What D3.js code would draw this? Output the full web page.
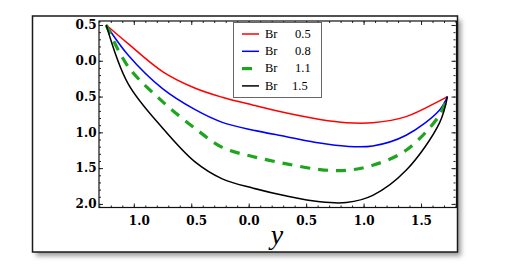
<!DOCTYPE html>
<html>
<head>
<meta charset="utf-8">
<script src="https://cdn.jsdelivr.net/npm/d3@7/dist/d3.min.js"></script>
<style>
  body { margin: 0; background: #fff; }
</style>
</head>
<body>
<div id="chart"></div>
<script>
// values (horizontal axis is y)
var yGrid = [-1.24, -1.05, -0.75, -0.47, -0.23, 0.04, 0.33, 0.62, 0.85, 1.08, 1.37, 1.66, 1.73];
var br05  = [0.5, 0.24, -0.15, -0.38, -0.51, -0.62, -0.73, -0.82, -0.865, -0.865, -0.78, -0.56, -0.5];
var br08  = [0.5, 0.08, -0.39, -0.68, -0.86, -0.97, -1.06, -1.15, -1.195, -1.19, -1.04, -0.69, -0.5];
var br11  = [0.5, -0.08, -0.57, -0.94, -1.21, -1.34, -1.44, -1.52, -1.53, -1.46, -1.25, -0.76, -0.5];
var br15  = [0.5, -0.32, -0.94, -1.41, -1.65, -1.78, -1.89, -1.97, -1.98, -1.88, -1.53, -0.87, -0.5];
var brNames  = ["Br", "Br", "Br", "Br"];
var brValues = ["0.5", "0.8", "1.1", "1.5"];
var xMajor = [-1, -0.5, 0, 0.5, 1, 1.5];
var yMajor = [0.5, 0, -0.5, -1, -1.5, -2];

var W = 513, H = 271;
var colors = ["#ff0000", "#0000ff", "#1ea51e", "#000000"];
var series = [br05, br08, br11, br15];

var svg = d3.select("#chart").append("svg")
    .attr("width", W)
    .attr("height", H);

// frame with drop shadow
var defs = svg.append("defs");
defs.append("filter").attr("id", "blur")
    .attr("x", "-10%").attr("y", "-10%").attr("width", "120%").attr("height", "120%")
  .append("feGaussianBlur").attr("stdDeviation", 2.5);

svg.append("rect")
    .attr("x", 36).attr("y", 20).attr("width", 425).attr("height", 236)
    .style("fill", "#9a9a9a")
    .attr("filter", "url(#blur)");
svg.append("rect")
    .attr("x", 32.5).attr("y", 16).attr("width", 425).attr("height", 236)
    .style("fill", "#fff")
    .style("stroke", "#1a1a1a")
    .style("stroke-width", 1.5);

var x = d3.scaleLinear().domain([-1.303, 1.80]).range([99, 455.5]);
var y = d3.scaleLinear().domain([-2.05, 0.556]).range([207.5, 21]);

var fmt = d3.format(".1f");
var labelFont = "'DejaVu Serif', serif";

// minor ticks (every 0.1), inside the frame on all sides
var xMinor = x.ticks(30), yMinor = y.ticks(26);
function addAxis(axis, tx, ty) {
  var g = svg.append("g")
      .attr("transform", "translate(" + tx + "," + ty + ")")
      .call(axis);
  g.select(".domain").remove();
  g.selectAll(".tick line").style("stroke", "#222").style("stroke-width", 1);
  return g;
}
addAxis(d3.axisBottom(x).tickValues(xMinor).tickSize(-2).tickFormat(""), 0, 207.5);
addAxis(d3.axisTop(x).tickValues(xMinor).tickSize(-2).tickFormat(""), 0, 21);
addAxis(d3.axisLeft(y).tickValues(yMinor).tickSize(-2).tickFormat(""), 99, 0);
addAxis(d3.axisRight(y).tickValues(yMinor).tickSize(-2).tickFormat(""), 455.5, 0);

var gx = addAxis(d3.axisBottom(x).tickValues(xMajor).tickSize(-4).tickPadding(9)
    .tickFormat(function(d) { return fmt(Math.abs(d)); }), 0, 207.5);
gx.selectAll("text")
    .attr("dx", function(d) { return d < 0 ? 5 : 0; })
    .style("font-family", labelFont)
    .style("font-weight", "bold")
    .style("font-size", "12px")
    .style("fill", "#000");
addAxis(d3.axisTop(x).tickValues(xMajor).tickSize(-4).tickFormat(""), 0, 21);

var gy = addAxis(d3.axisLeft(y).tickValues(yMajor).tickSize(-4).tickPadding(2.5)
    .tickFormat(function(d) { return fmt(Math.abs(d)); }), 99, 0);
gy.selectAll("text")
    .style("font-family", labelFont)
    .style("font-weight", "bold")
    .style("font-size", "12px")
    .style("fill", "#000");
addAxis(d3.axisRight(y).tickValues(yMajor).tickSize(-4).tickFormat(""), 455.5, 0);

// plot border
svg.append("rect")
    .attr("x", 99).attr("y", 21)
    .attr("width", 456.5 - 99).attr("height", 207.5 - 21)
    .style("fill", "none")
    .style("stroke", "#111")
    .style("stroke-width", 1.2);

// curves
var line = d3.line()
    .x(function(d, i) { return x(yGrid[i]); })
    .y(function(d) { return y(d); })
    .curve(d3.curveCatmullRom.alpha(0.5));

svg.selectAll(".curve")
    .data(series)
  .enter().append("path")
    .attr("class", "curve")
    .attr("d", line)
    .style("fill", "none")
    .style("stroke", function(d, i) { return colors[i]; })
    .style("stroke-width", function(d, i) { return i == 2 ? 3.2 : 1.5; })
    .style("stroke-dasharray", function(d, i) { return i == 2 ? "10,8" : null; });

// legend
var lg = svg.append("g");
lg.append("rect")
    .attr("x", 233.5).attr("y", 22.5).attr("width", 88).attr("height", 75)
    .style("fill", "#fff")
    .style("stroke", "#666")
    .style("stroke-width", 1);

var rows = lg.selectAll(".row")
    .data(brValues)
  .enter().append("g")
    .attr("class", "row")
    .attr("transform", function(d, i) { return "translate(0," + (34 + i * 17.3) + ")"; });

rows.append("line")
    .attr("x1", 242).attr("x2", function(d, i) { return i == 2 ? 252 : 259; })
    .attr("y1", 0).attr("y2", 0)
    .style("stroke", function(d, i) { return colors[i]; })
    .style("stroke-width", function(d, i) { return i == 2 ? 3.2 : 1.5; });

rows.append("text")
    .attr("x", 265).attr("y", 3.8)
    .style("font-family", "'Liberation Serif', serif")
    .style("font-size", "12.5px")
    .text(function(d, i) { return brNames[i]; });

rows.append("text")
    .attr("x", function(d, i) { return i == 3 ? 292 : 295; }).attr("y", 3.8)
    .style("font-family", "'Liberation Serif', serif")
    .style("font-size", "12.5px")
    .text(function(d) { return d; });

// axis title
svg.append("text")
    .attr("x", 277).attr("y", 244)
    .attr("text-anchor", "middle")
    .style("font-family", "'Liberation Serif', serif")
    .style("font-style", "italic")
    .style("font-size", "28px")
    .text("y");
</script>
</body>
</html>
